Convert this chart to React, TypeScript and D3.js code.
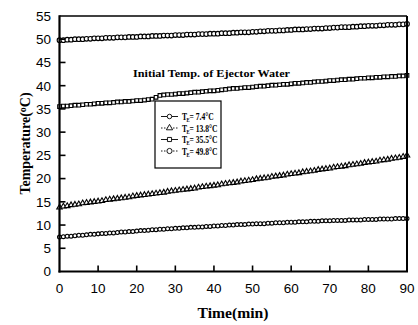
import React from 'react';
import * as d3 from 'd3';

// sampling times (min), one reading per minute
const times = d3.range(0, 91);

const seriesA = [
  7.4, 7.5, 7.6, 7.6, 7.7, 7.8, 7.8, 7.9, 8.0, 8.0, 8.1,
  8.2, 8.2, 8.3, 8.3, 8.4, 8.5, 8.5, 8.6, 8.6, 8.7,
  8.8, 8.8, 8.9, 9.0, 9.0, 9.1, 9.1, 9.2, 9.2, 9.3,
  9.3, 9.4, 9.4, 9.5, 9.5, 9.6, 9.6, 9.7, 9.7, 9.8,
  9.8, 9.9, 9.9, 10.0, 10.0, 10.1, 10.1, 10.1, 10.2, 10.2,
  10.3, 10.3, 10.3, 10.4, 10.4, 10.5, 10.5, 10.5, 10.6, 10.6,
  10.6, 10.7, 10.7, 10.7, 10.8, 10.8, 10.8, 10.9, 10.9, 10.9,
  11.0, 11.0, 11.0, 11.0, 11.1, 11.1, 11.1, 11.1, 11.2, 11.2,
  11.2, 11.2, 11.3, 11.3, 11.3, 11.3, 11.4, 11.4, 11.4, 11.4,
];

const seriesB = [
  13.8, 14.0, 14.1, 14.3, 14.4, 14.5, 14.7, 14.8, 14.9, 15.0, 15.1,
  15.2, 15.4, 15.5, 15.6, 15.7, 15.8, 15.9, 16.0, 16.2, 16.3,
  16.4, 16.5, 16.6, 16.7, 16.8, 16.9, 17.0, 17.2, 17.3, 17.4,
  17.5, 17.6, 17.7, 17.8, 17.9, 18.1, 18.2, 18.3, 18.4, 18.5,
  18.6, 18.8, 18.9, 19.0, 19.1, 19.2, 19.4, 19.5, 19.6, 19.7,
  19.9, 20.0, 20.1, 20.2, 20.4, 20.5, 20.6, 20.7, 20.9, 21.0,
  21.1, 21.2, 21.4, 21.5, 21.6, 21.7, 21.9, 22.0, 22.1, 22.2,
  22.4, 22.5, 22.6, 22.7, 22.9, 23.0, 23.1, 23.2, 23.4, 23.5,
  23.6, 23.7, 23.9, 24.0, 24.1, 24.3, 24.4, 24.5, 24.7, 25.0,
];

const seriesC = [
  35.5, 35.6, 35.6, 35.7, 35.8, 35.8, 35.9, 36.0, 36.0, 36.1, 36.2,
  36.2, 36.3, 36.3, 36.4, 36.5, 36.5, 36.6, 36.6, 36.7, 36.8,
  36.8, 36.9, 37.0, 37.1, 37.5, 37.9, 38.0, 38.1, 38.1, 38.2,
  38.3, 38.3, 38.4, 38.5, 38.6, 38.6, 38.7, 38.8, 38.9, 38.9,
  39.0, 39.1, 39.2, 39.3, 39.4, 39.4, 39.5, 39.6, 39.6, 39.7,
  39.8, 39.9, 39.9, 40.0, 40.1, 40.1, 40.2, 40.3, 40.3, 40.4,
  40.5, 40.5, 40.6, 40.7, 40.7, 40.8, 40.9, 40.9, 41.0, 41.1,
  41.1, 41.2, 41.3, 41.3, 41.4, 41.4, 41.5, 41.6, 41.6, 41.7,
  41.7, 41.8, 41.8, 41.9, 41.9, 42.0, 42.0, 42.1, 42.1, 42.2,
];

const seriesD = [
  49.8, 49.8, 49.9, 49.9, 50.0, 50.0, 50.0, 50.1, 50.1, 50.2, 50.2,
  50.2, 50.3, 50.3, 50.3, 50.4, 50.4, 50.4, 50.5, 50.5, 50.5,
  50.6, 50.6, 50.6, 50.7, 50.7, 50.7, 50.8, 50.8, 50.8, 50.9,
  50.9, 50.9, 51.0, 51.0, 51.0, 51.1, 51.1, 51.1, 51.2, 51.2,
  51.2, 51.3, 51.3, 51.3, 51.4, 51.4, 51.5, 51.5, 51.5, 51.6,
  51.6, 51.7, 51.7, 51.8, 51.8, 51.8, 51.9, 51.9, 52.0, 52.0,
  52.1, 52.1, 52.1, 52.2, 52.2, 52.3, 52.3, 52.3, 52.4, 52.4,
  52.5, 52.5, 52.6, 52.6, 52.6, 52.7, 52.7, 52.8, 52.8, 52.9,
  52.9, 52.9, 53.0, 53.0, 53.1, 53.1, 53.1, 53.2, 53.2, 53.3,
];

const legendTemps = ['7.4', '13.8', '35.5', '49.8'];
const xTicks = [0, 10, 20, 30, 40, 50, 60, 70, 80, 90];
const yTicks = [0, 5, 10, 15, 20, 25, 30, 35, 40, 45, 50, 55];

const series = [
  { values: seriesA, shape: d3.symbolCircle, size: 12, dash: null },
  { values: seriesB, shape: d3.symbolTriangle, size: 13, dash: '1.5,1.5' },
  { values: seriesC, shape: d3.symbolSquare, size: 13, dash: null },
  { values: seriesD, shape: d3.symbolCircle, size: 17, dash: '1.5,1.5' },
];

const width = 418;
const height = 325;
const margin = { top: 16, right: 11, bottom: 53.5, left: 59.5 };

const serif = '"Liberation Serif", "Times New Roman", serif';
const sans = '"Liberation Sans", Arial, sans-serif';

const App = () => {
  const x = d3.scaleLinear().domain([0, 90]).range([margin.left, width - margin.right]);
  const y = d3.scaleLinear().domain([0, 55]).range([height - margin.bottom, margin.top]);

  const line = d3.line<number>()
    .x((d, i) => x(times[i]))
    .y(d => y(d));

  const legendX = 155;
  const legendY = 101;
  const legendRow = 11.5;

  return (
    <svg width={width} height={height} style={{ position: 'absolute', left: 0, top: 0, background: 'white' }}>
      {/* series */}
      {series.map((s, si) => (
        <g key={si}>
          <path d={line(s.values) || ''} fill="none" stroke="black" strokeWidth={0.8} strokeDasharray={s.dash || undefined} />
          {s.values.map((v, i) => (
            <path
              key={i}
              d={d3.symbol(s.shape, s.size)() || ''}
              transform={`translate(${x(times[i])},${y(v)})`}
              fill="white"
              stroke="black"
              strokeWidth={1.1}
            />
          ))}
        </g>
      ))}

      {/* frame */}
      <line x1={x(0)} x2={x(90)} y1={y(55)} y2={y(55)} stroke="black" strokeWidth={1.6} />
      <line x1={x(90)} x2={x(90)} y1={y(55)} y2={y(0)} stroke="black" strokeWidth={2} />
      <line x1={x(0)} x2={x(0)} y1={y(55) - 0.8} y2={y(0) + 1} stroke="black" strokeWidth={2.2} />
      <line x1={x(0) - 1} x2={x(90) + 1} y1={y(0)} y2={y(0)} stroke="black" strokeWidth={2.2} />

      {/* y axis */}
      {yTicks.map(t => (
        <g key={t}>
          {t > 0 && t < 55 && (
            <line x1={x(0)} x2={x(0) + 6} y1={y(t)} y2={y(t)} stroke="black" strokeWidth={1.6} />
          )}
          <text x={51} y={y(t)} dy="0.36em" textAnchor="end" fontFamily={sans} fontSize={13.5}>{t}</text>
        </g>
      ))}

      {/* x axis */}
      {xTicks.map(t => (
        <g key={t}>
          {t > 0 && t < 90 && (
            <line x1={x(t)} x2={x(t)} y1={y(0)} y2={y(0) - 6} stroke="black" strokeWidth={1.6} />
          )}
          <text x={x(t)} y={293} textAnchor="middle" fontFamily={sans} fontSize={13.5}>{t}</text>
        </g>
      ))}

      <text x={233} y={318} textAnchor="middle" fontFamily={serif} fontWeight="bold" fontSize={14} textLength={71} lengthAdjust="spacingAndGlyphs">Time(min)</text>

      <text
        transform={`translate(30,${143.5}) rotate(-90)`}
        textAnchor="middle"
        fontFamily={serif}
        fontWeight="bold"
        fontSize={14}
      >
        Temperature(<tspan dy={-4} fontSize={10}>o</tspan><tspan dy={4}>C)</tspan>
      </text>

      <text x={133} y={77} fontFamily={serif} fontWeight="bold" fontSize={10.5} textLength={157} lengthAdjust="spacingAndGlyphs">
        Initial Temp. of Ejector Water
      </text>

      {/* legend */}
      <rect x={legendX} y={legendY} width={66} height={67} fill="white" stroke="black" strokeWidth={1.2} />
      {series.map((s, si) => {
        const ly = legendY + 15.5 + si * legendRow;
        return (
          <g key={si}>
            <line x1={legendX + 6} x2={legendX + 23} y1={ly} y2={ly} stroke="black" strokeWidth={0.9} strokeDasharray={s.dash || undefined} />
            <path d={d3.symbol(s.shape, s.size + 4)() || ''} transform={`translate(${legendX + 14.5},${ly})`} fill="white" stroke="black" strokeWidth={0.9} />
            <g transform={`translate(${legendX + 27},${ly + 3.6}) scale(0.72,1)`} fontFamily={serif} fontWeight="bold">
              <text x={0} y={0} fontSize={10.5}>T</text>
              <text x={6.2} y={2} fontSize={6.5}>E</text>
              <text x={10.5} y={0} fontSize={10.5}>{`= ${legendTemps[si]}°C`}</text>
            </g>
          </g>
        );
      })}
    </svg>
  );
};

export default App;
